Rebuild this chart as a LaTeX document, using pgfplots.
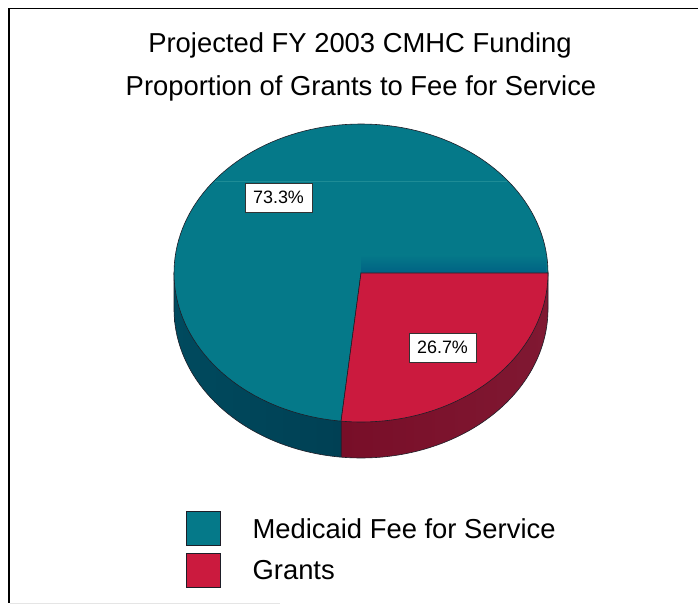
\documentclass[border=0pt]{standalone}
\usepackage{pgfplots}
\usepackage{fontspec}
\setmainfont{Liberation Sans}
\pgfplotsset{compat=1.18}
\definecolor{tealtop}{RGB}{5,121,137}
\definecolor{tealdeep}{RGB}{0,98,132}
\definecolor{tealglint}{RGB}{30,140,150}
\definecolor{tealsideL}{RGB}{0,74,94}
\definecolor{tealsideR}{RGB}{0,64,84}
\definecolor{redtop}{RGB}{203,26,62}
\definecolor{redsideL}{RGB}{120,14,40}
\definecolor{redsideR}{RGB}{128,24,50}
\definecolor{edge}{RGB}{30,30,40}

% Funding shares, in percent
\def\shareMedicaid{73.3}
\def\shareGrants{26.7}
% Pie geometry in picture units
\def\cx{361}\def\cy{332}\def\rx{187}\def\ry{149}\def\depth{36}
\pgfmathsetmacro{\grantsEnd}{-\shareGrants*3.6}
\pgfmathsetmacro{\medicaidEnd}{\shareMedicaid*3.6}
\pgfmathsetmacro{\ex}{\cx+\rx*cos(\grantsEnd)}
\pgfmathsetmacro{\ey}{\cy+\ry*sin(\grantsEnd)}

\begin{document}
\begin{tikzpicture}
\useasboundingbox (0,0) rectangle (698bp,605bp);
\begin{axis}[
  width=698bp, height=605bp, scale only axis,
  xmin=0, xmax=698, ymin=0, ymax=605,
  axis lines=none, clip=true,
  samples=121,
  legend cell align=left,
  legend style={draw=none, fill=none, at={(axis cs:186,93.5)}, anchor=north west,
    font=\fontsize{27.5}{27.5}\selectfont, inner sep=0pt, outer sep=0pt,
    row sep=6.5bp},
]
% outer frame, open on the right and at the bottom
\draw[black, line width=1.6bp] (axis cs:9,2) -- (axis cs:9,596.5) -- (axis cs:698,596.5);
\draw[black!10, line width=0.8bp] (axis cs:10,2) -- (axis cs:280,2);

% side walls
\addplot[left color=redsideL, right color=redsideR, draw=edge, line width=0.6bp, domain=\grantsEnd:0, variable=\t, forget plot]
  ({\cx+\rx*cos(\t)},{\cy-\depth+\ry*sin(\t)})
  -- (axis cs:\cx+\rx,\cy) -- (axis cs:\ex,\cy) -- (axis cs:\ex,\ey) -- cycle;
\addplot[left color=tealsideL, right color=tealsideR, draw=edge, line width=0.6bp, domain=180:\medicaidEnd, variable=\t, forget plot]
  ({\cx+\rx*cos(\t)},{\cy-\depth+\ry*sin(\t)})
  -- (axis cs:\ex,\ey) -- (axis cs:\ex,\cy) -- (axis cs:\cx-\rx,\cy) -- cycle;

% top faces
\addplot[fill=tealtop, draw=edge, line width=0.6bp, domain=0:\medicaidEnd, variable=\t, forget plot]
  ({\cx+\rx*cos(\t)},{\cy+\ry*sin(\t)}) -- (axis cs:\cx,\cy) -- cycle;
\shade[top color=tealtop, bottom color=tealdeep] (axis cs:\cx,\cy+18) rectangle (axis cs:\cx+185,\cy+0.5);
\draw[tealglint, line width=0.5bp] (axis cs:215,424) -- (axis cs:507,424);
\addplot[fill=redtop, draw=edge, line width=0.6bp, domain=\grantsEnd:0, variable=\t, forget plot]
  ({\cx+\rx*cos(\t)},{\cy+\ry*sin(\t)}) -- (axis cs:\cx,\cy) -- cycle;

% value labels
\node[draw=black!80, fill=white, line width=0.6bp, font=\fontsize{18}{18}\selectfont,
  minimum width=67bp, minimum height=29bp, inner sep=0pt] at (axis cs:278.5,407.5) {73.3\%};
\node[draw=black!80, fill=white, line width=0.6bp, font=\fontsize{18}{18}\selectfont,
  minimum width=67bp, minimum height=29bp, inner sep=0pt] at (axis cs:442.5,257.5) {26.7\%};

% title
\node[font=\fontsize{27.5}{27.5}\selectfont, anchor=base] at (axis cs:360,552) {Projected FY 2003 CMHC Funding};
\node[font=\fontsize{27.5}{27.5}\selectfont, anchor=base] at (axis cs:361,509) {Proportion of Grants to Fee for Service};

% legend entries
\addlegendimage{area legend,
  legend image code/.code={\draw[fill=tealtop, draw=edge, line width=0.8bp] (0bp,-17bp) rectangle (34bp,17bp); \path (64bp,0bp);}}
\addlegendentry{Medicaid Fee for Service}
\addlegendimage{area legend,
  legend image code/.code={\draw[fill=redtop, draw=edge, line width=0.8bp] (0bp,-17bp) rectangle (34bp,17bp); \path (64bp,0bp);}}
\addlegendentry{Grants}
\end{axis}
\end{tikzpicture}
\end{document}
